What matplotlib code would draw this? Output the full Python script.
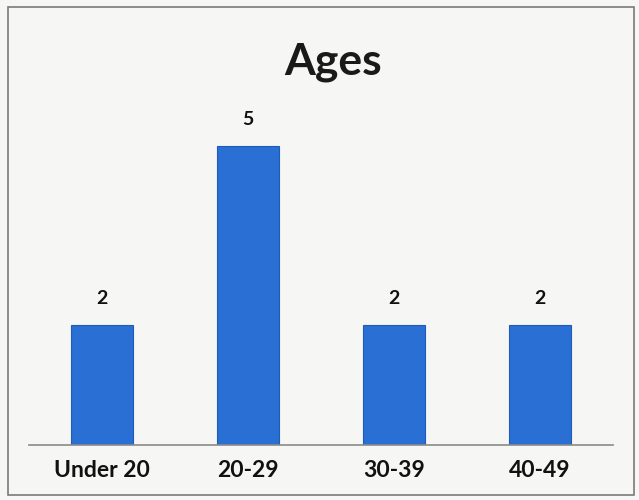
import matplotlib
matplotlib.use("Agg")
import matplotlib.pyplot as plt
from matplotlib.patches import Rectangle

categories = ["Under 20", "20-29", "30-39", "40-49"]
counts = [2, 5, 2, 2]

plt.rcParams["font.family"] = ["Lato", "DejaVu Sans"]

fig = plt.figure(figsize=(6.39, 5.00), dpi=100, facecolor="#f6f6f4")
# chart border
fig.add_artist(Rectangle((8 / 639, 5 / 500), 626 / 639, 488 / 500, transform=fig.transFigure,
                         fill=False, edgecolor="#7a7a7a", linewidth=1.2))

ax = fig.add_axes([29 / 639, 55 / 500, 584 / 639, 345 / 500])
ax.set_facecolor("none")
x = range(len(categories))
bars = ax.bar(x, counts, width=0.42, color="#2a6fd4", edgecolor="#1f5cb8", linewidth=0.8)
for b, v in zip(bars, counts):
    ax.text(b.get_x() + b.get_width() / 2, v + 0.3, str(v), ha="center", va="bottom",
            fontsize=14, fontweight="bold", color="#111111")

ax.set_xlim(-0.5, 3.5)
ax.set_ylim(0, 345 / 59.8)
ax.set_xticks(list(x))
ax.set_xticklabels(categories, fontsize=16.5, fontweight="bold", color="#111111")
ax.tick_params(axis="x", length=0, pad=11)
ax.set_yticks([])
for s in ("top", "left", "right"):
    ax.spines[s].set_visible(False)
ax.spines["bottom"].set_color("#8a8a8a")
ax.spines["bottom"].set_linewidth(1.2)

fig.text(333 / 639, 1 - 62 / 500, "Ages", ha="center", va="center",
         fontsize=32, fontweight="bold", color="#1a1a1a")

fig.savefig("out.png", dpi=100, facecolor=fig.get_facecolor())
